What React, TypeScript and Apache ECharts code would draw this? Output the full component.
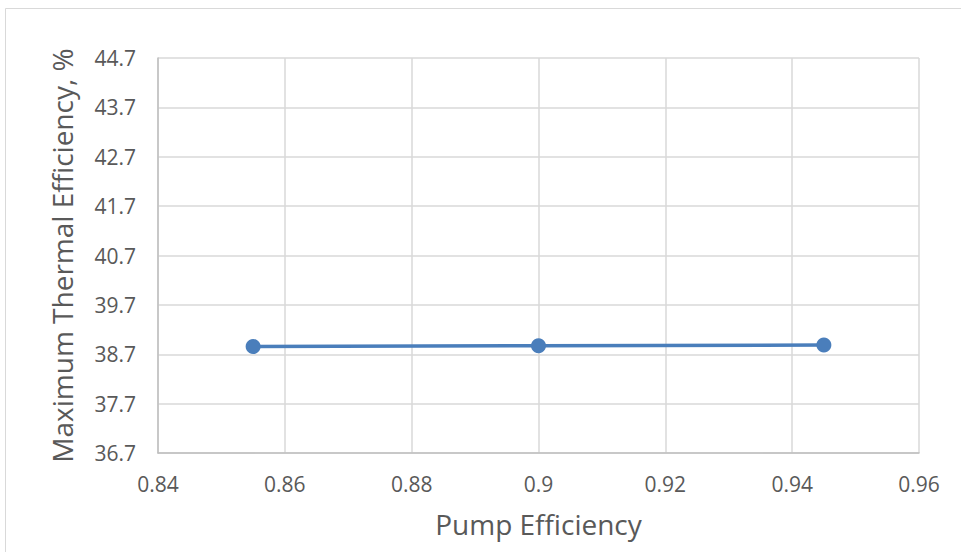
import React, { useEffect, useRef } from "react";
import * as echarts from "echarts";

// Pump efficiency vs. maximum thermal efficiency
const pumpEfficiency = [0.855, 0.9, 0.945];
const thermalEfficiency = [38.858, 38.872, 38.885];

const xMin = 0.84;
const xMax = 0.96;
const xStep = 0.02;
const yMin = 36.7;
const yMax = 44.7;
const yStep = 1;

const FONT = "'Open Sans', sans-serif";
const TEXT = "#595959";

export default function App() {
  const ref = useRef<HTMLDivElement>(null);

  useEffect(() => {
    if (!ref.current) return;
    const chart = echarts.init(ref.current, undefined, { renderer: "svg" });
    chart.setOption({
      animation: false,
      backgroundColor: "#ffffff",
      graphic: [
        {
          type: "rect",
          shape: { x: 5.5, y: 8.5, width: 1000, height: 600 },
          style: { fill: "none", stroke: "#d9d9d9", lineWidth: 1 },
          silent: true,
        },
      ],
      grid: { left: 158, right: 42, top: 58, bottom: 99 },
      xAxis: {
        type: "value",
        min: xMin,
        max: xMax,
        interval: xStep,
        name: "Pump Efficiency",
        nameLocation: "middle",
        nameGap: 57,
        nameTextStyle: { fontFamily: FONT, fontSize: 28, color: TEXT },
        axisLine: { show: true, lineStyle: { color: "#bfbfbf", width: 1.5 } },
        axisTick: { show: false },
        axisLabel: {
          fontFamily: FONT,
          fontSize: 21,
          color: TEXT,
          margin: 20,
          formatter: (v: number) => String(parseFloat(v.toFixed(2))),
        },
        splitLine: { show: true, lineStyle: { color: "#d9d9d9", width: 1.5 } },
      },
      yAxis: {
        type: "value",
        min: yMin,
        max: yMax,
        interval: yStep,
        name: "Maximum Thermal Efficiency, %",
        nameLocation: "middle",
        nameGap: 82,
        nameTextStyle: { fontFamily: FONT, fontSize: 28, color: TEXT },
        axisLine: { show: true, lineStyle: { color: "#bfbfbf", width: 1.5 } },
        axisTick: { show: false },
        axisLabel: {
          fontFamily: FONT,
          fontSize: 21,
          color: TEXT,
          margin: 22,
          formatter: (v: number) => v.toFixed(1),
        },
        splitLine: { show: true, lineStyle: { color: "#d9d9d9", width: 1.5 } },
      },
      series: [
        {
          type: "line",
          data: pumpEfficiency.map((x, i) => [x, thermalEfficiency[i]]),
          symbol: "circle",
          symbolSize: 15,
          lineStyle: { color: "#4a7ebb", width: 3.5 },
          itemStyle: { color: "#4a7ebb" },
        },
      ],
    });
    return () => chart.dispose();
  }, []);

  return (
    <div
      ref={ref}
      style={{ position: "fixed", left: 0, top: 0, width: 961, height: 552 }}
    />
  );
}
